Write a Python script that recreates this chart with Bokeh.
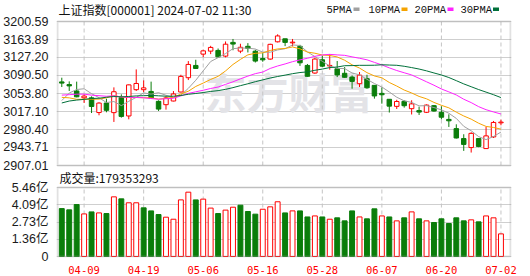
import pandas as pd
from bokeh.plotting import figure
from bokeh.models import (ColumnDataSource, Range1d, FixedTicker, Label, Grid,
                          BoxAnnotation)
from bokeh.embed import file_html
from bokeh.resources import INLINE

# ---------------- data ----------------
dates = ["04-02", "04-03", "04-08", "04-09", "04-10", "04-11", "04-12", "04-15", "04-16", "04-17",
         "04-18", "04-19", "04-22", "04-23", "04-24", "04-25", "04-26", "04-29", "04-30", "05-06",
         "05-07", "05-08", "05-09", "05-10", "05-13", "05-14", "05-15", "05-16", "05-17", "05-20",
         "05-21", "05-22", "05-23", "05-24", "05-27", "05-28", "05-29", "05-30", "05-31", "06-03",
         "06-04", "06-05", "06-06", "06-07", "06-11", "06-12", "06-13", "06-14", "06-17", "06-18",
         "06-19", "06-20", "06-21", "06-24", "06-25", "06-26", "06-27", "06-28", "07-01", "07-02"]
opens = [3077.5, 3072.0, 3059.0, 3045.0, 3045.0, 3015.0, 3034.4, 3014.8, 3045.3, 3008.0,
         3061.6, 3061.6, 3058.0, 3037.8, 3031.0, 3038.5, 3056.8, 3086.0, 3111.0, 3134.1,
         3140.2, 3141.6, 3130.0, 3158.0, 3140.2, 3150.0, 3140.0, 3125.0, 3124.0, 3159.2,
         3165.3, 3157.0, 3150.0, 3111.0, 3095.5, 3122.6, 3110.0, 3104.3, 3095.0, 3087.3,
         3073.8, 3084.0, 3070.4, 3054.0, 3042.0, 3027.6, 3037.8, 3022.9, 3019.0, 3015.5,
         3029.0, 3015.5, 3001.0, 2982.2, 2961.9, 2943.6, 2961.9, 2941.5, 2965.3, 2994.0]
highs = [3086.0, 3078.5, 3078.0, 3052.0, 3048.0, 3036.0, 3043.2, 3066.3, 3052.0, 3072.0,
         3102.9, 3080.5, 3078.0, 3039.9, 3048.0, 3058.8, 3092.0, 3119.9, 3122.6, 3143.0,
         3151.0, 3145.6, 3159.9, 3165.0, 3155.2, 3156.5, 3143.0, 3136.1, 3155.2, 3174.5,
         3165.3, 3165.0, 3153.0, 3114.0, 3126.7, 3131.0, 3134.0, 3120.0, 3107.7, 3090.7,
         3097.5, 3092.0, 3070.4, 3066.0, 3042.0, 3041.0, 3040.0, 3040.0, 3027.0, 3031.5,
         3030.4, 3027.6, 3011.4, 2991.0, 2970.7, 2974.8, 2961.9, 2985.6, 2997.8, 3000.5]
lows = [3067.0, 3059.0, 3046.0, 3034.5, 3014.0, 3009.4, 3015.5, 2995.8, 3004.6, 3001.2,
        3058.9, 3056.8, 3043.0, 3018.2, 3020.9, 3037.8, 3056.1, 3081.2, 3104.5, 3128.0,
        3134.1, 3126.5, 3127.5, 3142.0, 3136.0, 3137.5, 3117.0, 3118.5, 3122.6, 3157.9,
        3150.4, 3150.0, 3110.0, 3088.0, 3094.0, 3107.6, 3102.3, 3087.3, 3086.0, 3063.6,
        3067.0, 3063.5, 3043.3, 3033.0, 3015.0, 3022.2, 3025.0, 3011.0, 3010.0, 3014.0,
        3016.8, 3001.2, 2985.6, 2962.0, 2936.8, 2933.4, 2944.3, 2941.5, 2963.2, 2989.0]
closes = [3074.96, 3069.30, 3047.05, 3048.54, 3027.34, 3034.25, 3019.47, 3057.38, 3007.07, 3071.38,
          3074.22, 3065.26, 3044.60, 3021.98, 3044.82, 3052.90, 3088.64, 3113.04, 3104.82, 3140.72,
          3147.74, 3128.48, 3154.32, 3154.55, 3148.02, 3145.77, 3119.90, 3122.40, 3154.03, 3171.15,
          3157.97, 3158.54, 3116.39, 3088.87, 3124.04, 3109.57, 3111.02, 3091.68, 3086.81, 3078.49,
          3091.20, 3065.40, 3048.80, 3051.28, 3028.05, 3037.47, 3028.92, 3032.63, 3015.89, 3030.25,
          3018.05, 3005.44, 2998.14, 2963.10, 2950.00, 2972.53, 2945.85, 2967.40, 2994.73, 2995.50]
# volume, in 亿 (1e8)
volumes = [3.79, 3.69, 4.11, 3.37, 3.53, 3.45, 3.40, 4.72, 4.56, 4.25,
           4.25, 3.85, 3.61, 3.32, 3.11, 2.95, 4.48, 5.09, 4.48, 4.54,
           3.83, 3.40, 3.67, 3.90, 4.06, 3.56, 3.35, 3.74, 3.93, 4.33,
           3.45, 3.61, 3.61, 3.13, 3.21, 3.13, 2.95, 3.06, 2.82, 3.61,
           3.13, 2.98, 3.77, 3.21, 3.13, 2.82, 3.06, 3.53, 2.98, 2.82,
           2.69, 2.98, 2.61, 3.06, 2.82, 2.90, 2.74, 3.21, 3.06, 1.79]
# closes of the 29 sessions before 04-02 (02-21 .. 04-01), needed for the moving averages
prior_closes = [2950.96, 2988.36, 3004.88, 2977.02, 3015.48, 2957.85, 3015.17,
                3027.02, 3047.79, 3039.93, 3051.72, 3027.40, 3046.02, 3068.46, 3055.94,
                3043.83, 3038.23, 3054.64, 3084.93, 3079.69, 3079.26, 3077.11, 3048.03,
                3026.31, 3031.48, 2993.14, 3010.66, 3041.17, 3077.38]

price_ticks = [2907.01, 2943.71, 2980.40, 3017.10, 3053.80, 3090.50, 3127.20, 3163.89, 3200.59]
vol_ticks = [0, 1.36, 2.73, 4.09, 5.46]
vol_tick_labels = ["0", "1.36亿", "2.73亿", "4.09亿", "5.46亿"]
date_tick_labels = ["04-09", "04-19", "05-06", "05-16", "05-28", "06-07", "06-20", "07-02"]
ma_periods = [5, 10, 20, 30]
ma_names = ["5PMA", "10PMA", "20PMA", "30PMA"]
ma_colors = ["#a0a0a0", "#f5a300", "#ff22ff", "#00703a"]
title_text = "上证指数[000001] 2024-07-02 11:30"
vol_title = "成交量:179353293"

RED = "#ff0000"
GREEN = "#0a7d0a"
GRID = "#cfcfcf"
VGRID = "#c4c4c4"
FRAME = "#9a9a9a"

# ---------------- sources ----------------
n = len(dates)
xs = list(range(n))
up = [c >= o for o, c in zip(opens, closes)]
prev = [prior_closes[-1]] + closes[:-1]
vol_up = [c >= p for c, p in zip(closes, prev)]
src = ColumnDataSource(dict(
    x=xs, high=highs, low=lows,
    top=[max(o, c) for o, c in zip(opens, closes)],
    bottom=[min(o, c) for o, c in zip(opens, closes)],
    color=[RED if u else GREEN for u in up],
    fill=["white" if u else GREEN for u in up],
))
vsrc = ColumnDataSource(dict(
    x=xs, vol=volumes,
    color=[RED if u else GREEN for u in vol_up],
    fill=["white" if u else GREEN for u in vol_up],
))
all_closes = pd.Series(prior_closes + closes)
date_tick_idx = [dates.index(d) for d in date_tick_labels]

# ---------------- layout constants (pixels, from the page top) ----------------
W, H = 530, 276
FRAME_H = 257                 # one frame holds price panel, volume panel and captions
P_TOP, P_BOT = 21, 165        # price box top / bottom
V_TOP, V_BOT = 187, 256       # volume box top / bottom
DAY_PX = 7.46                 # pixels per session
X0, X1 = -0.576, 60.282       # session units at the left / right edge of the boxes
PAD = 1.0 / DAY_PX

p_per_px = (price_ticks[-1] - price_ticks[0]) / (P_BOT - P_TOP)
y_start = price_ticks[0] - (FRAME_H - P_BOT) * p_per_px
y_end = price_ticks[-1] + P_TOP * p_per_px
v_per_px = (vol_ticks[-1] - vol_ticks[0]) / (V_BOT - V_TOP)
v_start = vol_ticks[0] - (FRAME_H - V_BOT) * v_per_px
v_end = vol_ticks[-1] + V_TOP * v_per_px


def vol_on_price_axis(v):
    """position of a volume value on the (shared) left axis"""
    return y_start + (v - v_start) * p_per_px / v_per_px


p = figure(width=W, height=H, x_range=Range1d(X0 - PAD, X1 + PAD),
           y_range=Range1d(y_start, y_end),
           toolbar_location=None, tools="", output_backend="svg",
           min_border_left=55, min_border_right=19, min_border_top=0,
           min_border_bottom=H - FRAME_H)
p.extra_y_ranges = {"vol": Range1d(v_start, v_end)}
p.background_fill_color = "white"
p.border_fill_color = "white"
p.outline_line_color = None

# left axis: price ticks and volume ticks share it
vol_tick_pos = [vol_on_price_axis(v) for v in vol_ticks]
p.yaxis.ticker = FixedTicker(ticks=price_ticks + vol_tick_pos)
overrides = {t: f"{t:.2f}" for t in price_ticks}
overrides.update({t: l for t, l in zip(vol_tick_pos, vol_tick_labels)})
p.yaxis.major_label_overrides = overrides
p.yaxis.axis_line_color = None
p.yaxis.major_tick_line_color = None
p.yaxis.minor_tick_line_color = None
p.yaxis.major_label_standoff = 2
p.yaxis.major_label_text_font = "Liberation Sans, Noto Sans CJK SC"
p.yaxis.major_label_text_font_size = "12.5px"
p.yaxis.major_label_text_color = "#1a1a1a"

p.xaxis.ticker = FixedTicker(ticks=date_tick_idx)
p.xaxis.major_label_overrides = {i: l for i, l in zip(date_tick_idx, date_tick_labels)}
p.xaxis.axis_line_color = None
p.xaxis.major_tick_line_color = None
p.xaxis.minor_tick_line_color = None
p.xaxis.major_label_standoff = 2
p.xaxis.major_label_text_font = "DejaVu Sans Mono"
p.xaxis.major_label_text_font_size = "10.5px"
p.xaxis.major_label_text_color = RED

p.xgrid.visible = False
p.ygrid.ticker = FixedTicker(ticks=price_ticks)
p.ygrid.grid_line_color = GRID
p.add_layout(Grid(dimension=1, ticker=FixedTicker(ticks=vol_ticks), y_range_name="vol",
                  grid_line_color=GRID), "center")

# watermark
p.add_layout(Label(x=148, y=FRAME_H - 90, x_units="screen", y_units="screen", text="东方财富",
                   text_font="Noto Sans CJK SC", text_font_style="bold", text_font_size="42px",
                   text_color="#e3e3e7", text_baseline="middle", level="underlay"))

# dashed date grid, inside each box only
k = len(date_tick_idx)
p.segment(x0=date_tick_idx, y0=[price_ticks[0]] * k, x1=date_tick_idx, y1=[price_ticks[-1]] * k,
          line_color=VGRID, line_dash="4 3", line_width=1)
p.segment(x0=date_tick_idx, y0=[vol_ticks[0]] * k, x1=date_tick_idx, y1=[vol_ticks[-1]] * k,
          line_color=VGRID, line_dash="4 3", line_width=1, y_range_name="vol")

# candles
p.segment(x0="x", y0="low", x1="x", y1="high", line_color="color", line_width=1, source=src)
p.vbar(x="x", width=0.6, top="top", bottom="bottom", fill_color="fill", line_color="color",
       line_width=1, source=src)

# moving averages
for per, col in zip(ma_periods, ma_colors):
    ma = all_closes.rolling(per).mean().iloc[len(prior_closes):].tolist()
    p.line(xs, ma, line_color=col, line_width=1)

# volume
p.vbar(x="x", width=0.66, top="vol", bottom=0, fill_color="fill", line_color="color",
       line_width=1, source=vsrc, y_range_name="vol")

# panel boxes
p.add_layout(BoxAnnotation(left=X0, right=X1, bottom=price_ticks[0], top=price_ticks[-1],
                           fill_alpha=0, line_color=FRAME, line_width=2))
p.add_layout(BoxAnnotation(left=X0, right=X1, bottom=vol_ticks[0], top=vol_ticks[-1],
                           fill_alpha=0, line_color=FRAME, line_width=2, y_range_name="vol"))

# captions (screen px from the frame's bottom-left corner)
cap_y = FRAME_H - 9
p.add_layout(Label(x=2, y=cap_y, x_units="screen", y_units="screen", text=title_text,
                   text_font="Noto Sans CJK SC", text_font_size="12px", text_color="#111111",
                   text_baseline="middle"))
leg_x = [270, 312, 358, 404]
box_x = [297, 345, 391, 436.5]
for name, col, lx, bx in zip(ma_names, ma_colors, leg_x, box_x):
    p.add_layout(Label(x=lx, y=cap_y, x_units="screen", y_units="screen", text=name,
                       text_font="Liberation Mono", text_font_size="10.5px", text_color="#111111",
                       text_baseline="middle"))
    p.add_layout(BoxAnnotation(left=bx, right=bx + 6, bottom=cap_y - 1.5, top=cap_y + 2,
                               left_units="screen", right_units="screen",
                               bottom_units="screen", top_units="screen",
                               fill_color=col, fill_alpha=1, line_color=None))
p.add_layout(Label(x=3, y=FRAME_H - 177, x_units="screen", y_units="screen", text=vol_title,
                   text_font="Noto Sans CJK SC", text_font_size="12px", text_color="#111111",
                   text_baseline="middle"))

open("out.html", "w").write(file_html(p, INLINE))
